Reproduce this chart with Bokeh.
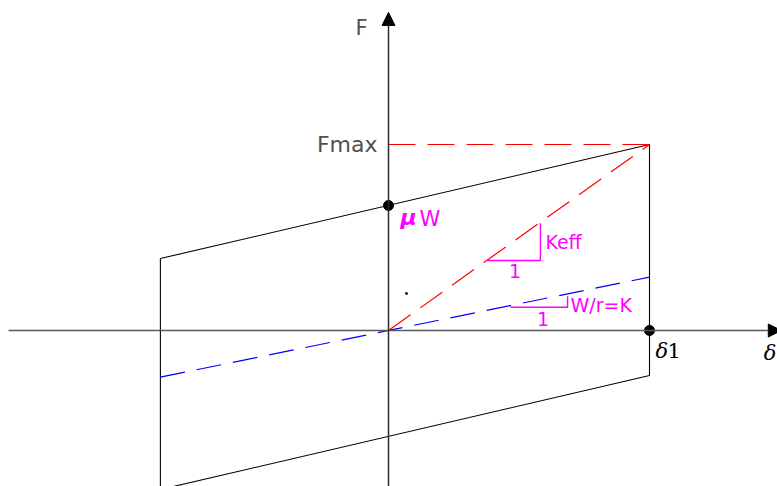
from bokeh.plotting import figure
from bokeh.models import Range1d, Label, Arrow, NormalHead
from bokeh.embed import file_html
from bokeh.resources import INLINE

# Force-displacement loop of a sliding (friction pendulum) bearing.
# Displacement is normalised by delta1, force by Fmax.
delta_1 = 1.0
f_max = 1.0
mu_w = 0.672
delta_left = -0.874

loop_delta = [delta_left, delta_1, delta_1, delta_left, delta_left]
loop_force = [0.387, f_max, -0.242, -0.855, 0.387]

k_stiff = 0.287          # W/r = K
k_eff = f_max / delta_1  # secant stiffness

# slope markers drawn under each line
keff_tri_x = [0.379, 0.582, 0.582]
keff_tri_y = [0.376, 0.376, 0.577]
k_tri_x = [0.467, 0.686, 0.686]
k_tri_y = [0.125, 0.125, 0.184]

# axis extents
x_axis_span = [-1.456, 1.505]
y_axis_span = [-0.85, 1.71]

SX, SY = 261.0, 186.0          # pixels per unit on each axis
OX, OY = 388.0, 330.0          # pixel position of the origin
W, H = 777, 486

p = figure(width=W, height=H,
           x_range=Range1d(-OX / SX, (W - OX) / SX),
           y_range=Range1d(-(H - OY) / SY, OY / SY),
           x_axis_type=None, y_axis_type=None,
           output_backend="svg", toolbar_location=None, min_border=0)
p.grid.visible = False
p.outline_line_color = None
p.background_fill_color = "white"
p.border_fill_color = "white"

# coordinate axes with arrow heads
p.add_layout(Arrow(x_start=x_axis_span[0], y_start=0, x_end=x_axis_span[1], y_end=0,
                   line_color="#5a5a5a", line_width=1.5,
                   end=NormalHead(size=13, fill_color="black", line_color="black")))
p.add_layout(Arrow(x_start=0, y_start=y_axis_span[0], x_end=0, y_end=y_axis_span[1],
                   line_color="#2a2a2a", line_width=1.5,
                   end=NormalHead(size=13, fill_color="black", line_color="black")))

# hysteresis loop
p.line(loop_delta, loop_force, line_color="black", line_width=1.1)

# secant stiffness and Fmax reference line
p.line([0, delta_1], [0, k_eff * delta_1], line_color="red", line_width=1.2,
       line_dash="27 12")
p.line([0, delta_1], [f_max, f_max], line_color="red", line_width=1.2,
       line_dash="27 12")

# restoring stiffness K = W/r
p.line([delta_left, delta_1], [k_stiff * delta_left, k_stiff * delta_1],
       line_color="blue", line_width=1.2, line_dash="25 12")

# slope triangles
p.line(keff_tri_x, keff_tri_y, line_color="magenta", line_width=1.4)
p.line(k_tri_x, k_tri_y, line_color="magenta", line_width=1.4)

# key points
p.scatter([0, delta_1], [mu_w, 0], size=10, color="black")
p.scatter([0.069], [0.199], size=2, color="black")

def label(x, y, text, color="magenta", size="19px", dx=0, dy=0,
          align="left", font="DejaVu Sans", style="normal"):
    p.add_layout(Label(x=x, y=y, text=text, x_offset=dx, y_offset=dy,
                       text_color=color, text_font_size=size, text_align=align,
                       text_baseline="middle", text_font=font,
                       text_font_style=style))

label(0, f_max, "Fmax", color="#505050", size="22px", dx=-11, align="right")
label(0, y_axis_span[1], "F", color="#505050", size="21px", dx=-33, dy=-16)
label(0, mu_w, "\u03bc", size="22px", dx=12, dy=-12, style="bold italic")
label(0, mu_w, "W", size="21px", dx=31, dy=-13)
label(keff_tri_x[1], keff_tri_y[2], "Keff", dx=5, dy=-19)
label((keff_tri_x[0] + keff_tri_x[1]) / 2, keff_tri_y[0], "1", dx=-5, dy=-10)
label(k_tri_x[1], k_tri_y[0], "W/r=K", dx=3, dy=2)
label((k_tri_x[0] + k_tri_x[1]) / 2, k_tri_y[0], "1", dx=-2, dy=-12)
label(delta_1, 0, "\u03b4", color="black", size="21px", dx=6, dy=-20,
      font="DejaVu Serif", style="italic")
label(delta_1, 0, "1", color="black", size="21px", dx=18, dy=-20,
      font="DejaVu Serif")
label(x_axis_span[1], 0, "\u03b4", color="black", size="21px", dx=-5, dy=-22,
      align="right", font="DejaVu Serif", style="italic")

open("out.html", "w").write(file_html(p, INLINE))
